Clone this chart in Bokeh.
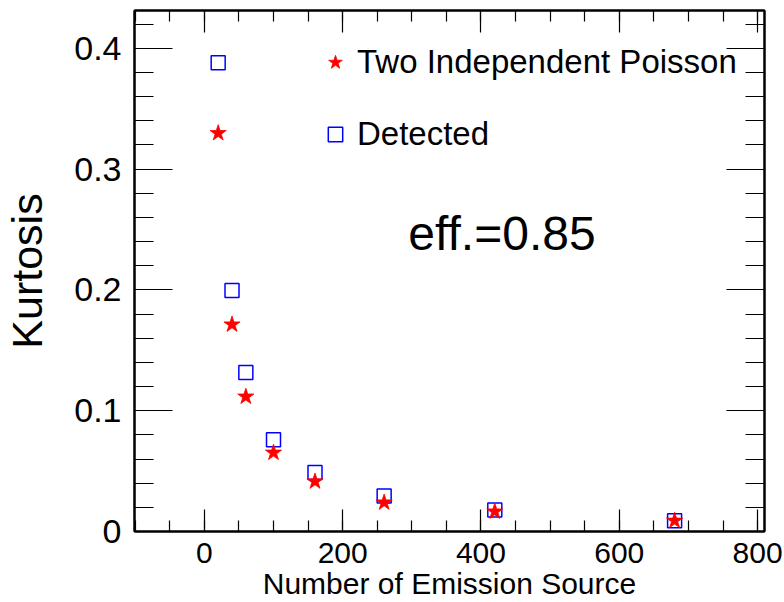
from bokeh.plotting import figure
from bokeh.models import (LinearAxis, Legend, LegendItem, Label, Range1d,
                          SingleIntervalTicker, CustomJSTickFormatter)
from bokeh.embed import file_html
from bokeh.resources import INLINE

# ---- data ----
n_source = [20, 40, 60, 100, 160, 260, 420, 680]
kurt_poisson = [0.3297, 0.1713, 0.1116, 0.0652, 0.0414, 0.0240, 0.0165, 0.0089]
kurt_detected = [0.3880, 0.1994, 0.1315, 0.0760, 0.0489, 0.0293, 0.0178, 0.0090]
x_tick_values = [0, 200, 400, 600, 800]
x_tick_labels = ["0", "200", "400", "600", "800"]
y_tick_values = [0, 0.1, 0.2, 0.3, 0.4]
y_tick_labels = ["0", "0.1", "0.2", "0.3", "0.4"]
series_names = ["Two Independent Poisson", "Detected"]
x_title = "Number of Emission Source"
y_title = "Kurtosis"
annotation_text = "eff.=0.85"

FONT = "Liberation Sans"
X_MIN, X_MAX = -101, 810
Y_MIN, Y_MAX = 0, 0.4312

p = figure(width=784, height=602, output_backend="svg", toolbar_location=None,
           x_range=Range1d(X_MIN, X_MAX), y_range=Range1d(Y_MIN, Y_MAX),
           x_axis_type=None, y_axis_type=None,
           min_border_left=134, min_border_right=20,
           min_border_top=10, min_border_bottom=71)
p.grid.visible = False
p.outline_line_color = "black"
p.outline_line_width = 2
p.background_fill_color = "white"
p.border_fill_color = "white"


def style_common(ax):
    ax.axis_line_width = 2
    ax.axis_line_color = "black"
    ax.major_tick_line_color = "black"
    ax.minor_tick_line_color = "black"
    ax.major_tick_line_width = 1.2
    ax.minor_tick_line_width = 1.2
    ax.major_tick_out = 0
    ax.minor_tick_out = 0


def make_x_axis(show_labels):
    ax = LinearAxis(ticker=SingleIntervalTicker(interval=200, num_minor_ticks=4))
    style_common(ax)
    ax.major_tick_in = 22
    ax.minor_tick_in = 11
    if show_labels:
        ax.major_label_overrides = dict(zip(x_tick_values, x_tick_labels))
        ax.major_label_text_font = FONT
        ax.major_label_text_color = "black"
        ax.major_label_text_font_size = "30px"
        ax.major_label_standoff = 11
        ax.axis_label = x_title
        ax.axis_label_text_font = FONT
        ax.axis_label_text_color = "black"
        ax.axis_label_text_font_size = "30px"
        ax.axis_label_text_font_style = "normal"
        ax.axis_label_standoff = 1
    else:
        ax.formatter = CustomJSTickFormatter(code="return ''")
        ax.major_label_standoff = 0
    return ax


def make_y_axis(show_labels):
    ax = LinearAxis(ticker=SingleIntervalTicker(interval=0.1, num_minor_ticks=5))
    style_common(ax)
    ax.major_tick_in = 38
    ax.minor_tick_in = 19
    if show_labels:
        ax.major_label_overrides = dict(zip(y_tick_values, y_tick_labels))
        ax.major_label_text_font = FONT
        ax.major_label_text_color = "black"
        ax.major_label_text_font_size = "34px"
        ax.major_label_standoff = 13
        ax.axis_label = y_title
        ax.axis_label_text_font = FONT
        ax.axis_label_text_color = "black"
        ax.axis_label_text_font_size = "43px"
        ax.axis_label_text_font_style = "normal"
        ax.axis_label_standoff = 20
    else:
        ax.formatter = CustomJSTickFormatter(code="return ''")
        ax.major_label_standoff = 0
    return ax


p.add_layout(make_x_axis(True), "below")
p.add_layout(make_x_axis(False), "above")
p.add_layout(make_y_axis(True), "left")
p.add_layout(make_y_axis(False), "right")

r_det = p.scatter(n_source, kurt_detected, marker="square", size=14,
                  fill_color=None, line_color="#0000ff", line_width=1.5)
r_poi = p.scatter(n_source, kurt_poisson, marker="star", size=17,
                  fill_color="#ff0000", line_color="#ff0000", line_width=0.8)

legend = Legend(items=[LegendItem(label=series_names[0], renderers=[r_poi]),
                       LegendItem(label=series_names[1], renderers=[r_det])],
                location=(183, 377), glyph_width=36, glyph_height=40,
                label_height=40, label_standoff=4, spacing=32,
                padding=0, margin=0, border_line_alpha=0,
                background_fill_alpha=0,
                label_text_font=FONT, label_text_font_size="33px",
                label_text_color="black")
p.add_layout(legend)

p.add_layout(Label(x=295, y=0.2466, text=annotation_text, text_font=FONT,
                   text_font_size="48px", text_baseline="alphabetic",
                   text_color="black"))

open("out.html", "w").write(file_html(p, INLINE))
